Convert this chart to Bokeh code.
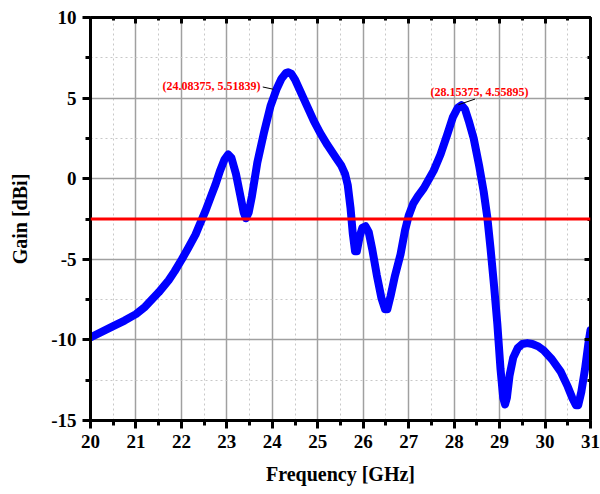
from bokeh.plotting import figure
from bokeh.models import Range1d, SingleIntervalTicker, LinearAxis, Span, Label, CustomJSTickFormatter
from bokeh.embed import file_html
from bokeh.resources import INLINE

freq = [20.0, 20.5, 20.75, 21.0, 21.2, 21.5, 21.72, 21.85, 22.01, 22.15, 22.31, 22.4, 22.53, 22.65,
        22.75, 22.85, 22.95, 23.03, 23.1, 23.2, 23.3, 23.37, 23.42, 23.48, 23.55, 23.67, 23.82, 23.96,
        24.1, 24.2, 24.3, 24.35, 24.42, 24.5, 24.62, 24.75, 24.91, 25.05, 25.21, 25.4, 25.52, 25.6,
        25.66, 25.72, 25.77, 25.82, 25.86, 25.92, 25.98, 26.05, 26.12, 26.2, 26.3, 26.4, 26.48, 26.53,
        26.6, 26.7, 26.82, 26.92, 27.0, 27.1, 27.2, 27.33, 27.45, 27.55, 27.7, 27.85, 27.97, 28.08,
        28.16, 28.24, 28.32, 28.43, 28.55, 28.65, 28.73, 28.8, 28.88, 28.95, 29.02, 29.08, 29.12,
        29.16, 29.22, 29.3, 29.4, 29.5, 29.61, 29.72, 29.85, 29.97, 30.15, 30.34, 30.5, 30.6, 30.68,
        30.73, 30.8, 30.88, 30.95, 31.0]
gain = [-9.85, -9.15, -8.8, -8.4, -7.95, -7.05, -6.3, -5.75, -5.0, -4.3, -3.47, -2.85, -2.0, -1.1,
        -0.36, 0.5, 1.2, 1.5, 1.3, 0.3, -1.1, -2.1, -2.45, -2.1, -1.1, 1.0, 2.9, 4.5,
        5.6, 6.2, 6.55, 6.6, 6.5, 6.15, 5.4, 4.6, 3.6, 2.85, 2.1, 1.3, 0.8, 0.3,
        -0.4, -1.8, -3.4, -4.5, -4.5, -3.6, -3.05, -2.95, -3.3, -4.4, -6.0, -7.4, -8.1, -8.1,
        -7.3, -6.0, -4.7, -3.2, -2.3, -1.55, -1.1, -0.6, 0.0, 0.5, 1.5, 2.75, 3.8, 4.4,
        4.56, 4.3, 3.6, 2.5, 0.8, -0.8, -2.4, -4.3, -6.7, -9.0, -11.8, -13.6, -14.0,
        -13.6, -12.2, -11.1, -10.5, -10.25, -10.2, -10.25, -10.4, -10.65, -11.2, -11.95, -12.9, -13.6, -14.05,
        -14.05, -13.2, -11.8, -10.3, -9.4]

threshold = -2.5

ann_x = [24.08375, 28.15375]
ann_y = [5.51839, 4.55895]
ann_text = ["(24.08375, 5.51839)", "(28.15375, 4.55895)"]
ann_label_x = [23.74, 28.56]
ann_label_y = [5.74, 5.39]
ann_align = ["right", "center"]

FONT = "Liberation Serif"

p = figure(width=600, height=494, output_backend="svg", toolbar_location=None,
           x_range=Range1d(20, 31), y_range=Range1d(-15, 10),
           min_border_left=90, min_border_right=10, min_border_top=17, min_border_bottom=74)

p.xaxis.ticker = SingleIntervalTicker(interval=1, num_minor_ticks=2)
p.yaxis.ticker = SingleIntervalTicker(interval=5, num_minor_ticks=2)
p.xaxis.formatter = CustomJSTickFormatter(code="return String(tick);")
p.yaxis.formatter = CustomJSTickFormatter(code="return String(tick);")

for ax in (p.xaxis[0], p.yaxis[0]):
    ax.axis_line_width = 3
    ax.axis_line_color = "black"
    ax.major_tick_line_width = 3
    ax.minor_tick_line_width = 3
    ax.major_tick_out = 8
    ax.major_tick_in = 0
    ax.minor_tick_out = 5
    ax.minor_tick_in = 0
    ax.major_label_text_font = FONT
    ax.major_label_text_font_style = "bold"
    ax.major_label_text_font_size = "19px"
    ax.major_label_text_color = "black"
    ax.axis_label_text_font = FONT
    ax.axis_label_text_font_style = "bold"
    ax.axis_label_text_font_size = "20px"
    ax.axis_label_text_color = "black"

p.xaxis.axis_label = "Frequency [GHz]"
p.yaxis.axis_label = "Gain [dBi]"
p.xaxis.major_label_standoff = 6
p.xaxis.axis_label_standoff = 12
p.yaxis.major_label_standoff = 6
p.yaxis.axis_label_standoff = 17

for loc in ("right", "above"):
    if loc == "right":
        ax = LinearAxis(ticker=SingleIntervalTicker(interval=5, num_minor_ticks=2))
    else:
        ax = LinearAxis(ticker=SingleIntervalTicker(interval=1, num_minor_ticks=2))
    ax.formatter = CustomJSTickFormatter(code="return '';")
    ax.axis_line_width = 3
    ax.major_tick_in = 6
    ax.major_tick_out = 0
    ax.minor_tick_in = 3
    ax.minor_tick_out = 0
    ax.major_tick_line_width = 3
    ax.minor_tick_line_width = 3
    ax.major_label_standoff = 0
    p.add_layout(ax, loc)

p.outline_line_color = "black"
p.outline_line_width = 2

p.xgrid.grid_line_color = "#a0a0a0"
p.ygrid.grid_line_color = "#a0a0a0"
p.xgrid.grid_line_width = 1.5
p.ygrid.grid_line_width = 1.5
p.xgrid.minor_grid_line_color = "#c8c8c8"
p.ygrid.minor_grid_line_color = "#c8c8c8"
p.xgrid.minor_grid_line_dash = "2 3"
p.ygrid.minor_grid_line_dash = "2 3"

p.add_layout(Span(location=threshold, dimension="width", line_color="red", line_width=3))

p.line(freq, gain, line_color="#0000ff", line_width=8, line_join="round", line_cap="round")

for i in range(2):
    xs = ann_label_x[i] + (0.05 if ann_align[i] == "right" else -0.1)
    ys = ann_label_y[i] - (0.05 if ann_align[i] == "right" else 0.45)
    p.segment(x0=[xs], y0=[ys], x1=[ann_x[i] - 0.06], y1=[ann_y[i] + 0.03], line_color="black", line_width=1)
    p.add_layout(Label(x=ann_label_x[i], y=ann_label_y[i], text=ann_text[i], text_align=ann_align[i],
                       text_baseline="middle", text_font=FONT, text_font_style="bold",
                       text_font_size="12px", text_color="red"))

open("out.html", "w").write(file_html(p, INLINE))
